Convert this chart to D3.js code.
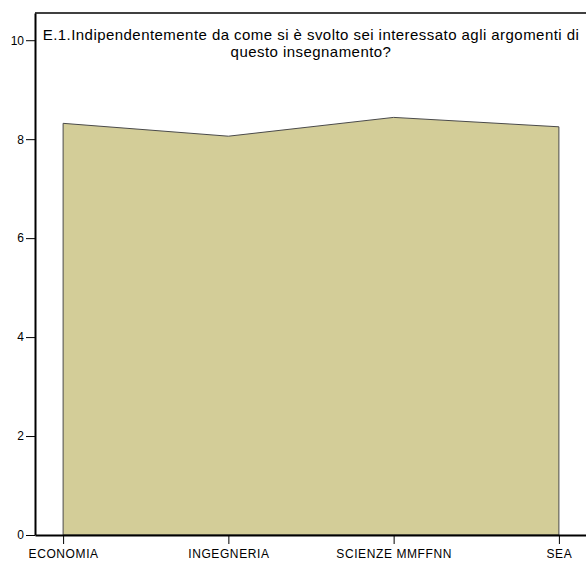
<!DOCTYPE html>
<html>
<head>
<style>
body { margin: 0; background: #fff; }
text { font-family: "Liberation Sans", Arial, sans-serif; fill: #000; }
</style>
</head>
<body>
<svg id="chart" width="586" height="561"></svg>
<script src="https://d3js.org/d3.v7.min.js"></script>
<script>
var categories = ["ECONOMIA", "INGEGNERIA", "SCIENZE MMFFNN", "SEA"];
var values = [8.32, 8.06, 8.44, 8.25];
var yTicks = [0, 2, 4, 6, 8, 10];
var titleLines = [
  "E.1.Indipendentemente da come si è svolto sei interessato agli argomenti di",
  "questo insegnamento?"
];

var svg = d3.select("#chart"),
    margin = {top: 13, right: -1, bottom: 26, left: 35},
    width = +svg.attr("width") - margin.left - margin.right,
    height = +svg.attr("height") - margin.top - margin.bottom;

var yTop = 10.55;

var x = d3.scalePoint()
    .domain(categories)
    .range([margin.left, margin.left + width])
    .padding(0.17);

var y = d3.scaleLinear()
    .domain([0, yTop])
    .range([margin.top + height, margin.top]);

var data = categories.map(function(c, i) { return {cat: c, v: values[i]}; });

// area
var area = d3.area()
    .x(function(d) { return x(d.cat); })
    .y0(y(0))
    .y1(function(d) { return y(d.v); });

svg.append("path")
    .datum(data)
    .attr("d", area)
    .attr("fill", "#d3cd98")
    .attr("stroke", "#4a4a4a")
    .attr("stroke-width", 1);

// frame top
svg.append("line")
    .attr("x1", margin.left).attr("x2", margin.left + width)
    .attr("y1", y(yTop)).attr("y2", y(yTop))
    .attr("stroke", "#000").attr("stroke-width", 1.5);

// y axis
var yAxis = svg.append("g")
    .attr("transform", "translate(" + margin.left + ",0)")
    .call(d3.axisLeft(y).tickValues(yTicks).tickSize(9).tickPadding(2).tickSizeOuter(0));
yAxis.select(".domain").attr("stroke-width", 2);
yAxis.selectAll(".tick line").attr("stroke-width", 1);
yAxis.selectAll("text").attr("font-size", 12).style("font-family", "'Liberation Sans', Arial, sans-serif");

// x axis
var xAxis = svg.append("g")
    .attr("transform", "translate(0," + y(0) + ")")
    .call(d3.axisBottom(x).tickSize(9).tickPadding(5).tickSizeOuter(0));
xAxis.select(".domain").attr("stroke-width", 2);
xAxis.selectAll(".tick line").attr("stroke-width", 1);
xAxis.selectAll("text").attr("font-size", 12).attr("letter-spacing", 0.6)
    .style("font-family", "'Liberation Sans', Arial, sans-serif");

// title
svg.append("g").selectAll("text")
    .data(titleLines)
    .enter()
    .append("text")
    .attr("x", margin.left + width / 2)
    .attr("y", function(d, i) { return 40 + i * 16.5; })
    .attr("text-anchor", "middle")
    .attr("font-size", 15)
    .attr("letter-spacing", 0.45)
    .text(function(d) { return d; });
</script>
</body>
</html>
